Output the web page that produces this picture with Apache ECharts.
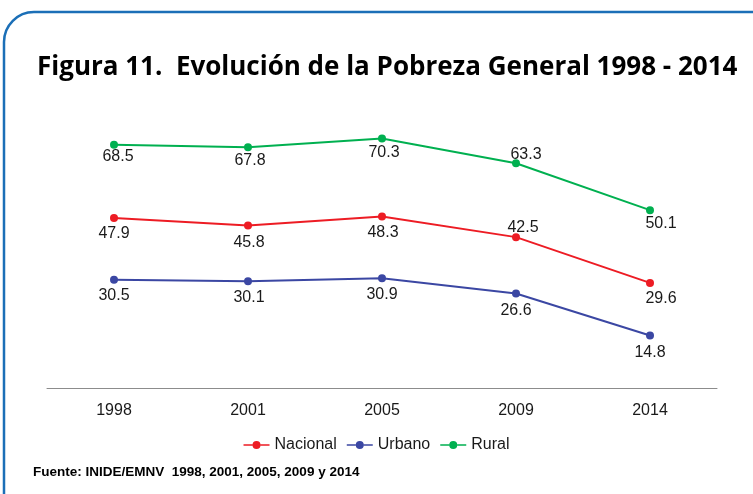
<!DOCTYPE html>
<html>
<head>
<meta charset="utf-8">
<script src="https://cdn.jsdelivr.net/npm/echarts@6/dist/echarts.min.js"></script>
<style>
html,body{margin:0;padding:0;background:#fff;}
#chart{width:753px;height:494px;}
</style>
</head>
<body>
<div id="chart"></div>
<script>
var years = ["1998", "2001", "2005", "2009", "2014"];
var nacional = [47.9, 45.8, 48.3, 42.5, 29.6];
var urbano = [30.5, 30.1, 30.9, 26.6, 14.8];
var rural = [68.5, 67.8, 70.3, 63.3, 50.1];

// desplazamiento de cada etiqueta respecto al punto [dx, dy]
var offNacional = [[0, 16], [1, 17], [1, 16], [7, -10], [11, 16]];
var offUrbano = [[0, 16], [1, 16], [0, 16], [0, 17], [0, 17]];
var offRural = [[4, 12], [2, 13], [2, 14], [10, -9], [11, 13]];

var chart = echarts.init(document.getElementById("chart"), null, { renderer: "canvas" });

function labels(vals, offs) {
  return vals.map(function (v, i) {
    return {
      value: v,
      label: {
        show: true,
        position: [4 + offs[i][0], 4 + offs[i][1]],
        align: "center",
        verticalAlign: "middle"
      }
    };
  });
}

var lbl = {
  color: "#1a1a1a",
  fontSize: 16,
  fontFamily: "Liberation Sans, Arial, sans-serif",
  formatter: function (p) { return p.value.toFixed(1); }
};

function serie(name, color, data) {
  return {
    name: name,
    type: "line",
    data: data,
    symbol: "circle",
    symbolSize: 8,
    color: color,
    lineStyle: { width: 2, color: color },
    itemStyle: { color: color },
    label: lbl,
    z: 3
  };
}

chart.setOption({
  animation: false,
  title: {
    text: "Figura 11.  Evolución de la Pobreza General 1998 - 2014",
    left: 32,
    top: 50,
    textStyle: { fontSize: 26, fontWeight: "bold", color: "#000", fontFamily: "Open Sans, sans-serif" }
  },
  legend: {
    data: ["Nacional", "Urbano", "Rural"],
    left: "center",
    top: 432,
    itemWidth: 26,
    itemHeight: 8,
    itemGap: 10,
    icon: "path://M0,3.2h9v1.6h-9z M17,3.2h9v1.6h-9z M9,4a4,4 0 1,0 8,0a4,4 0 1,0 -8,0z",
    textStyle: { fontSize: 16, color: "#1a1a1a", fontFamily: "Liberation Sans, Arial, sans-serif" }
  },
  grid: { left: 47, top: 104, width: 670, height: 284 },
  xAxis: {
    type: "category",
    data: years,
    boundaryGap: true,
    axisLine: { lineStyle: { color: "#8c8c8c", width: 1 } },
    axisTick: { show: false },
    axisLabel: { fontSize: 16, color: "#1a1a1a", margin: 15, fontFamily: "Liberation Sans, Arial, sans-serif" }
  },
  yAxis: {
    type: "value",
    min: 0,
    max: 80,
    show: false,
    splitLine: { show: false }
  },
  graphic: [
    {
      type: "rect",
      shape: { x: 4, y: 12, width: 820, height: 540, r: 30 },
      style: { fill: null, stroke: "#1b6fb7", lineWidth: 2.5 },
      z: 0
    },
    {
      type: "text",
      left: 33,
      top: 465,
      style: {
        text: "Fuente: INIDE/EMNV  1998, 2001, 2005, 2009 y 2014",
        font: "bold 13.5px 'Liberation Sans', Arial, sans-serif",
        fill: "#000"
      }
    }
  ],
  series: [
    serie("Nacional", "#ed1c24", labels(nacional, offNacional)),
    serie("Urbano", "#3b47a3", labels(urbano, offUrbano)),
    serie("Rural", "#00b050", labels(rural, offRural))
  ]
});
</script>
</body>
</html>
